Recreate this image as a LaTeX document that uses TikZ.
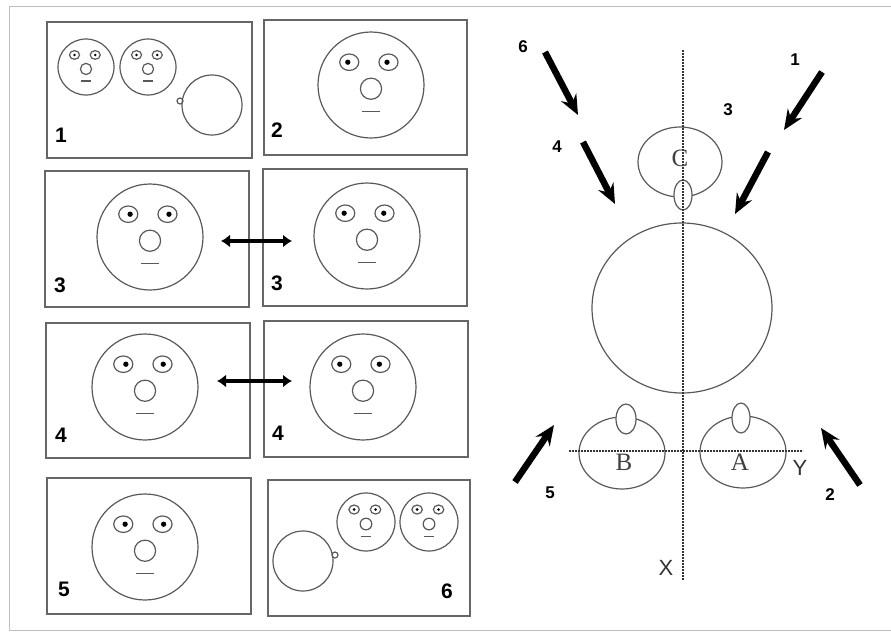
\documentclass[tikz,border=0pt]{standalone}
\usepackage{fontspec}
\setmainfont{Liberation Serif}
\setsansfont{Liberation Sans}
\usetikzlibrary{arrows.meta}

\begin{document}
\begin{tikzpicture}[x=1pt, y=-1pt,
  panel/.style = {draw=black!60, line width=1.6pt},
  thin line/.style = {draw=black!65, line width=1.2pt},
  num/.style = {font=\sffamily\bfseries\fontsize{21}{21}\selectfont},
  arrow num/.style = {font=\sffamily\bfseries\fontsize{17}{17}\selectfont},
  letter/.style = {font=\fontsize{25}{25}\selectfont, text=black!75},
  axis letter/.style = {font=\sffamily\fontsize{22}{22}\selectfont, text=black!80},
  axis/.style = {draw=black!80, line width=1.2pt, dash pattern=on 2pt off 1pt},
  look/.style = {-{Stealth[length=20pt,width=17pt,inset=7pt]}, line width=6.5pt},
  swap/.style = {{Latex[length=9pt,width=13pt]}-{Latex[length=9pt,width=13pt]}, line width=4pt},
  pics/face/.style args = {#1/#2}{code={
    \draw[thin line] (0,0) circle[radius=1];
    \draw[thin line] (-0.41,-0.43) ellipse[x radius=0.18, y radius=0.155];
    \draw[thin line] (0.33,-0.43) ellipse[x radius=0.18, y radius=0.155];
    \fill ({-0.41+(#1)*0.07},-0.43) circle[radius=0.05];
    \fill ({0.33+(#2)*0.07},-0.43) circle[radius=0.05];
    \draw[thin line] (0,0.07) circle[radius=0.2];
    \draw[thin line] (-0.17,0.5) -- (0.17,0.5);
  }}]
  \useasboundingbox (0,0) rectangle (891,632);
  \draw[black!25, line width=1pt] (9,6) rectangle (896,630);

  % left column: the six panels
  \draw[panel] (47,22) rectangle (252,158);
  \draw[panel] (264,20) rectangle (467,155);
  \draw[panel] (45,171) rectangle (249,307);
  \draw[panel] (263,169) rectangle (467,306);
  \draw[panel] (46,323) rectangle (250,458);
  \draw[panel] (264,321) rectangle (468,457);
  \draw[panel] (47,478) rectangle (251,614);
  \draw[panel] (268,480) rectangle (470,616);

  % panel 1
  \pic[scale=28] (p1a) at (86,67) {face=0/0};
  \pic[scale=28] (p1b) at (148,67) {face=0/0};
  \draw[thin line] (212,105) circle[radius=30];
  \draw[thin line] (180,101) circle[radius=3];
  % panel 2
  \pic[scale=53] (p2) at (371,85) {face=-0.4/-0.4};
  % panels 3
  \pic[scale=53] (p3a) at (150,237) {face=0.5/0.4};
  \pic[scale=53] (p3b) at (367,236) {face=-0.3/-0.2};
  % panels 4
  \pic[scale=53] (p4a) at (145,387) {face=0.7/0.2};
  \pic[scale=53] (p4b) at (363,387) {face=-0.4/-0.3};
  % panel 5
  \pic[scale=53] (p5) at (145,547) {face=0.5/0.3};
  % panel 6
  \draw[thin line] (303,561) circle[radius=30];
  \draw[thin line] (335,555) circle[radius=3];
  \pic[scale=29] (p6a) at (366,522) {face=0/0};
  \pic[scale=29] (p6b) at (429,522) {face=0/0};

  \coordinate (s3l) at (221,241);
  \coordinate (s3r) at (292,241);
  \coordinate (s4l) at (217,381);
  \coordinate (s4r) at (292,381);
  \draw[swap] (s3l) -- (s3r);
  \draw[swap] (s4l) -- (s4r);

  \node[num] (n1) at (61,135) {1};
  \node[num] (n2) at (277,130) {2};
  \node[num] (n3a) at (60,285) {3};
  \node[num] (n3b) at (277,283) {3};
  \node[num] (n4a) at (61,435) {4};
  \node[num] (n4b) at (278,433) {4};
  \node[num] (n5) at (64,589) {5};
  \node[num] (n6) at (447,591) {6};

  % right side: the body seen from above
  \draw[thin line] (682,308) ellipse[x radius=90, y radius=85];
  \draw[thin line] (680,162) ellipse[x radius=42, y radius=35];
  \draw[thin line, fill=white] (683,195) ellipse[x radius=9, y radius=15];
  \draw[thin line] (622,453) ellipse[x radius=43, y radius=36];
  \draw[thin line, fill=white] (626,419) ellipse[x radius=10, y radius=15];
  \draw[thin line] (743,452) ellipse[x radius=43, y radius=36];
  \draw[thin line, fill=white] (741,418) ellipse[x radius=9, y radius=15];

  \coordinate (xtop) at (683,50);
  \coordinate (xbot) at (683,580);
  \coordinate (yleft) at (569,451);
  \coordinate (yright) at (803,451);
  \draw[axis] (xtop) -- (xbot);
  \draw[axis] (yleft) -- (yright);

  \node[letter] (C) at (680,158) {C};
  \node[letter] (B) at (624,462) {B};
  \node[letter] (A) at (740,462) {A};
  \node[axis letter] (Y) at (800,468) {Y};
  \node[axis letter] (X) at (666,568) {X};

  % viewing directions
  \coordinate (a6s) at (545,52);  \coordinate (a6e) at (578,115);
  \coordinate (a4s) at (583,142); \coordinate (a4e) at (615,204);
  \coordinate (a1s) at (822,72);  \coordinate (a1e) at (784,130);
  \coordinate (a3s) at (768,152); \coordinate (a3e) at (735,214);
  \coordinate (a5s) at (515,482); \coordinate (a5e) at (554,425);
  \coordinate (a2s) at (860,485); \coordinate (a2e) at (821,428);
  \draw[look] (a6s) -- (a6e);
  \draw[look] (a4s) -- (a4e);
  \draw[look] (a1s) -- (a1e);
  \draw[look] (a3s) -- (a3e);
  \draw[look] (a5s) -- (a5e);
  \draw[look] (a2s) -- (a2e);

  \node[arrow num] (l6) at (523,47) {6};
  \node[arrow num] (l4) at (557,147) {4};
  \node[arrow num] (l1) at (795,60) {1};
  \node[arrow num] (l3) at (728,110) {3};
  \node[arrow num] (l5) at (550,493) {5};
  \node[arrow num] (l2) at (830,495) {2};
\end{tikzpicture}
\end{document}
